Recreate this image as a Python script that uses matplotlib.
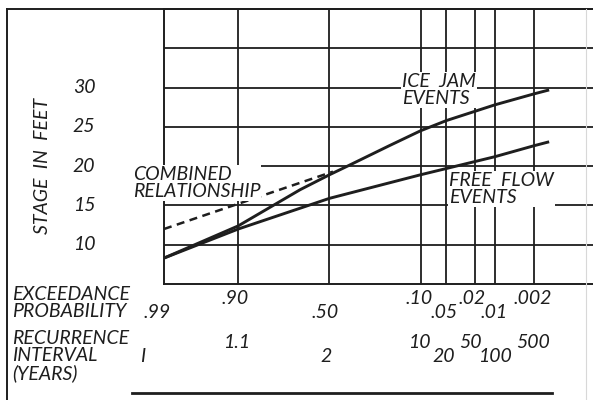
import statistics
import matplotlib
matplotlib.use('Agg')
from matplotlib import pyplot as plt
from matplotlib.lines import Line2D
from matplotlib.transforms import blended_transform_factory

# data
prob_ticks = [.99, .90, .50, .10, .05, .02, .01, .002]
prob_labels = ['.99', '.90', '.50', '.10', '.05', '.02', '.01', '.002']
recur_labels = ['I', '1.1', '2', '10', '20', '50', '100', '500']
stage_ticks = [10, 15, 20, 25, 30]

ice_prob = [.99, .90, .66, .50, .40, .20, .10, .05, .02, .01, .002, .001]
ice_stage = [8.3, 12.4, 17.0, 18.9, 20.0, 22.6, 24.5, 25.8, 27.0, 27.8, 29.2, 29.7]
free_prob = [.99, .90, .50, .10, .05, .02, .01, .002, .001]
free_stage = [8.3, 12.0, 15.9, 18.9, 19.7, 20.6, 21.2, 22.6, 23.1]
comb_prob = [.99, .48]
comb_stage = [12.0, 19.3]

W, H = 593, 400
nd = statistics.NormalDist()


def z(p):
    # exceedance probability -> normal probability paper position
    return nd.inv_cdf(1 - p)


def fx(px):
    return px / W


def fy(py):
    return 1 - py / H


ink = '#1e1e1e'
font = dict(family=['Lato', 'DejaVu Sans'], style='italic',
            color=ink, fontsize=14)

fig = plt.figure(figsize=(W / 100, H / 100), dpi=100)
fig.patch.set_facecolor('white')
ax = fig.add_axes([fx(164), fy(284), fx(593) - fx(164), fy(9) - fy(284)])

ax.set_xlim(z(.99), 3.707)
ax.set_ylim(5, 40)

# grid
for p in prob_ticks[1:]:
    ax.axvline(z(p), color=ink, lw=1.3, zorder=1)
for s in [10, 15, 20, 25, 30, 35]:
    ax.axhline(s, color=ink, lw=1.3, zorder=1)

ax.plot([z(p) for p in ice_prob], ice_stage, color=ink, lw=2.1,
        solid_capstyle='butt', solid_joinstyle='round', zorder=3)
ax.plot([z(p) for p in free_prob], free_stage, color=ink, lw=2.1,
        solid_capstyle='butt', solid_joinstyle='round', zorder=3)
ax.plot([z(p) for p in comb_prob], comb_stage, color=ink, lw=1.8,
        ls=(0, (3.2, 2.2)), zorder=3)

ax.spines['right'].set_visible(False)
for side in ['left', 'bottom', 'top']:
    ax.spines[side].set_linewidth(1.4)
    ax.spines[side].set_color(ink)
ax.set_xticks([])
ax.set_yticks([])

# curve labels
box = dict(facecolor='white', edgecolor='none', pad=0.5)
fig.text(fx(402), fy(90), 'ICE  JAM\nEVENTS', va='center', ha='left',
         linespacing=1.0, bbox=box, zorder=5, **font)
fig.text(fx(449), fy(189), 'FREE  FLOW\nEVENTS', va='center', ha='left',
         linespacing=1.0, bbox=box, zorder=5, **font)
fig.text(fx(133), fy(183), 'COMBINED\nRELATIONSHIP', va='center', ha='left',
         linespacing=1.0, bbox=box, zorder=5, **font)

# stage axis labels
fig.text(fx(43), fy(166), 'STAGE  IN  FEET', rotation=90, va='center',
         ha='center', **font)
ytr = blended_transform_factory(fig.transFigure, ax.transData)
for s in stage_ticks:
    fig.text(fx(84), s, str(s), transform=ytr, va='center', ha='center', **font)

# probability / recurrence rows
xtr = blended_transform_factory(ax.transData, fig.transFigure)
upper = [False, True, False, True, False, True, False, True]
p_off = [-7, -3, -4, -1, -2, -3, -1, -1]
r_off = [-21, -2, -3, -1, -3, -5, 0, -1]
r_upper = [False, True, False, True, False, True, False, True]
for i, p in enumerate(prob_ticks):
    py = 299 if upper[i] else 313
    ax.annotate(prob_labels[i], (z(p), fy(py)), xycoords=xtr,
                xytext=(p_off[i] * 0.72, 0), textcoords='offset points',
                va='center', ha='center', annotation_clip=False, **font)
    ry = 343 if r_upper[i] else 356
    ax.annotate(recur_labels[i], (z(p), fy(ry)), xycoords=xtr,
                xytext=(r_off[i] * 0.72, 0), textcoords='offset points',
                va='center', ha='center', annotation_clip=False, **font)

fig.text(fx(12), fy(303), 'EXCEEDANCE\nPROBABILITY', va='center', ha='left',
         linespacing=1.0, **font)
fig.text(fx(12), fy(356), 'RECURRENCE\nINTERVAL\n(YEARS)', va='center',
         ha='left', linespacing=1.0, **font)

# frame lines of the drawing sheet
fig.add_artist(Line2D([fx(7), fx(7)], [fy(9), fy(400)], color=ink, lw=1.4))
fig.add_artist(Line2D([fx(7), fx(593)], [fy(9), fy(9)], color=ink, lw=1.4))
fig.add_artist(Line2D([fx(586), fx(586)], [fy(9), fy(400)], color='#d8d8d8', lw=0.8))
fig.add_artist(Line2D([fx(132), fx(552)], [fy(393), fy(393)], color=ink, lw=2.0))

fig.savefig('out.png', dpi=100, facecolor='white')
